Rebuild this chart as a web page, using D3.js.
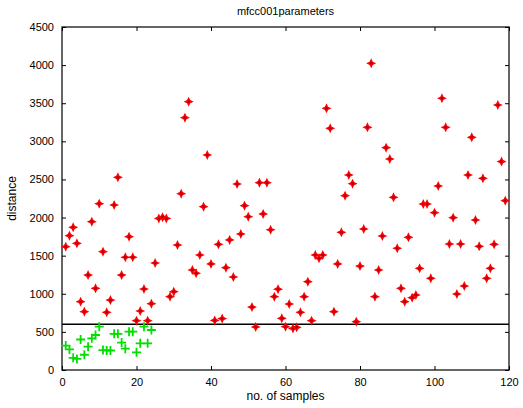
<!DOCTYPE html>
<meta charset="utf-8">
<style>
  body { margin: 0; background: #fff; }
  svg { font-family: "Liberation Sans", Arial, sans-serif; }
  .tick text { font-size: 11px; fill: #000; }
</style>
<body>
<svg id="chart" width="523" height="408"></svg>
<script src="https://cdn.jsdelivr.net/npm/d3@7"></script>
<script>
// red: distances to other-speaker samples
var redX = [];
for (var i = 1; i <= 119; i++) redX.push(i);
var redY = [1618, 1762, 1872, 1662, 896, 765, 1246, 1946, 1072, 2182,
  1552, 757, 918, 2165, 2528, 1246, 1479, 1749, 1479, 647,
  774, 1063, 647, 870, 1404, 1988, 2005, 1988, 962, 1028,
  1640, 2313, 3310, 3520, 1312, 1269, 1509, 2143, 2821, 1391,
  650, 1649, 675, 1342, 1706, 1220, 2440, 1784, 2156, 2011,
  826, 565, 2458, 2047, 2458, 1840, 962, 1060, 678, 568,
  866, 545, 560, 757, 962, 1159, 647, 1509, 1466, 1509,
  3433, 3171, 765, 1391, 1806, 2287, 2558, 2445, 634, 1364,
  1850, 3184, 4024, 962, 1312, 1758, 2917, 2768, 2265, 1597,
  1072, 896, 1741, 949, 984, 1334, 2178, 2178, 1203, 2064,
  2414, 3565, 3184, 1653, 1998, 997, 1653, 1102, 2558, 3053,
  1968, 1623, 2515, 1203, 1334, 1649, 3477, 2734, 2221];

// green: same-speaker samples
var greenX = [];
for (var j = 1; j <= 24; j++) greenX.push(j);
var greenY = [320, 270, 160, 145, 400, 200, 306, 416, 459, 568,
  262, 256, 256, 475, 475, 360, 280, 503, 503, 232,
  350, 568, 350, 525];

var threshold = 600;
var xTicks = [0, 20, 40, 60, 80, 100, 120];
var yTicks = [0, 500, 1000, 1500, 2000, 2500, 3000, 3500, 4000, 4500];

var margin = {left: 62, right: 14, top: 27, bottom: 38};
var svg = d3.select("#chart");
var W = 523, H = 408;
var w = W - margin.left - margin.right, h = H - margin.top - margin.bottom;

var x = d3.scaleLinear().domain([0, 120]).range([0, w]);
var y = d3.scaleLinear().domain([0, 4500]).range([h, 0]);
var fmt = d3.format("d");

var g = svg.append("g").attr("transform", "translate(" + margin.left + "," + margin.top + ")");

// axes, ticks pointing inward like matlab
g.append("g").attr("transform", "translate(0," + h + ")")
  .call(d3.axisBottom(x).tickValues(xTicks).tickSize(-4).tickPadding(8).tickFormat(fmt))
  .call(function (a) { a.select(".domain").remove(); });
g.append("g")
  .call(d3.axisTop(x).tickValues(xTicks).tickSize(-4).tickFormat(""))
  .call(function (a) { a.select(".domain").remove(); });
g.append("g")
  .call(d3.axisLeft(y).tickValues(yTicks).tickSize(-4).tickPadding(8).tickFormat(fmt))
  .call(function (a) { a.select(".domain").remove(); });
g.append("g").attr("transform", "translate(" + w + ",0)")
  .call(d3.axisRight(y).tickValues(yTicks).tickSize(-4).tickFormat(""))
  .call(function (a) { a.select(".domain").remove(); });
g.selectAll(".tick line").attr("stroke", "#000");

g.append("rect").attr("width", w).attr("height", h)
  .attr("fill", "none").attr("stroke", "#000").attr("stroke-width", 1.2);

// threshold line
g.append("line")
  .attr("x1", x(0)).attr("x2", x(120))
  .attr("y1", y(threshold)).attr("y2", y(threshold))
  .attr("stroke", "#000").attr("stroke-width", 1.5);

// red star markers
var star = "M0,-5L1.6,-1.6L5,0L1.6,1.6L0,5L-1.6,1.6L-5,0L-1.6,-1.6Z";
var red = g.append("g").selectAll("g").data(redY).enter().append("g")
  .attr("transform", function (d, i) { return "translate(" + x(redX[i]) + "," + y(d) + ")"; });
red.append("path").attr("d", star).attr("fill", "#f00");
red.append("circle").attr("r", 1.3).attr("fill", "#b00018");

// green plus markers
g.append("g").selectAll("path").data(greenY).enter().append("path")
  .attr("transform", function (d, i) { return "translate(" + x(greenX[i]) + "," + y(d) + ")"; })
  .attr("d", "M-4.5,0L4.5,0M0,-4.5L0,4.5")
  .attr("stroke", "#00e000").attr("stroke-width", 1.8);

// labels
svg.append("text").attr("x", margin.left + w / 2).attr("y", 15)
  .attr("text-anchor", "middle").attr("font-size", 11).text("mfcc001parameters");
svg.append("text").attr("x", margin.left + w / 2).attr("y", 400)
  .attr("text-anchor", "middle").attr("font-size", 12).text("no. of samples");
svg.append("text").attr("transform", "translate(16," + (margin.top + h / 2) + ") rotate(-90)")
  .attr("text-anchor", "middle").attr("font-size", 12).text("distance");
</script>
</body>
